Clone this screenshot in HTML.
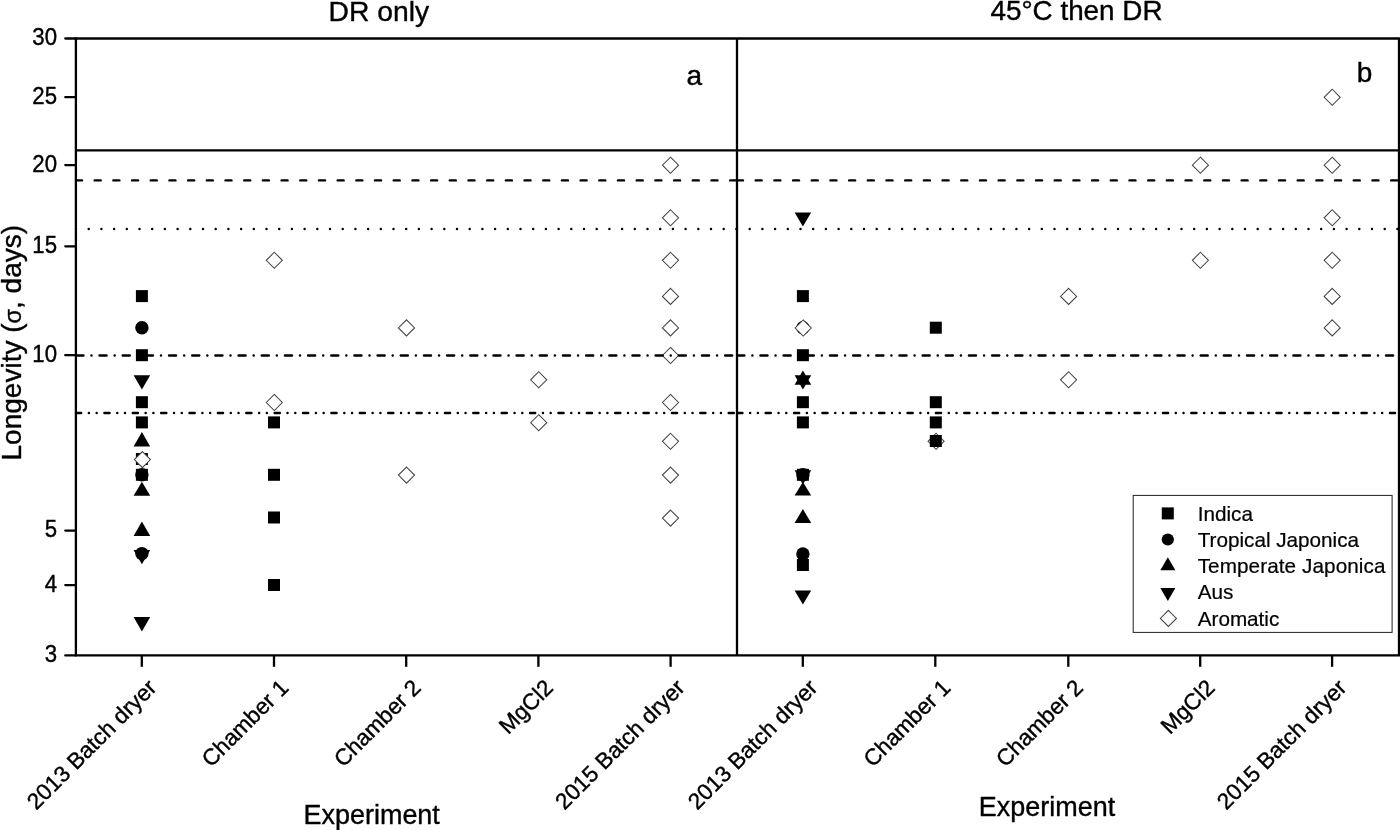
<!DOCTYPE html>
<html><head><meta charset="utf-8"><title>chart</title>
<style>html,body{margin:0;padding:0;background:#fff;overflow:hidden;}svg{display:block;filter:grayscale(1);}text{font-family:"Liberation Sans",sans-serif;fill:#000;stroke:#000;stroke-width:0.38px;stroke-linejoin:round;}</style></head><body>
<svg width="1400" height="830" viewBox="0 0 1400 830">
<rect x="0" y="0" width="1400" height="830" fill="#fff"/>
<g id="symbols">
<rect x="135.90" y="290.10" width="12.0" height="12.0" fill="#000"/>
<circle cx="141.90" cy="327.70" r="6.7" fill="#000"/>
<rect x="135.90" y="349.20" width="12.0" height="12.0" fill="#000"/>
<path d="M141.90 389.50L150.20 375.25L133.60 375.25Z" fill="#000"/>
<rect x="135.90" y="396.20" width="12.0" height="12.0" fill="#000"/>
<rect x="135.90" y="416.40" width="12.0" height="12.0" fill="#000"/>
<path d="M141.90 432.05L150.20 446.50L133.60 446.50Z" fill="#000"/>
<rect x="135.90" y="453.00" width="12.0" height="12.0" fill="#000"/>
<path d="M142.40 451.55L150.45 459.60L142.40 467.65L134.35 459.60Z" fill="#fff" stroke="#444" stroke-width="1.05" stroke-linejoin="miter"/>
<circle cx="141.90" cy="474.80" r="6.7" fill="#000"/>
<rect x="135.90" y="468.80" width="12.0" height="12.0" fill="#000"/>
<path d="M141.90 481.70L150.20 495.70L133.60 495.70Z" fill="#000"/>
<path d="M141.90 521.60L150.20 536.07L133.60 536.07Z" fill="#000"/>
<circle cx="141.90" cy="553.60" r="6.7" fill="#000"/>
<path d="M141.90 564.20L150.20 549.95L133.60 549.95Z" fill="#000"/>
<path d="M141.90 631.60L150.20 616.90L133.60 616.90Z" fill="#000"/>
<path d="M274.30 252.25L282.35 260.30L274.30 268.35L266.25 260.30Z" fill="none" stroke="#444" stroke-width="1.05" stroke-linejoin="miter"/>
<path d="M274.30 394.45L282.35 402.50L274.30 410.55L266.25 402.50Z" fill="none" stroke="#444" stroke-width="1.05" stroke-linejoin="miter"/>
<rect x="268.00" y="416.40" width="12.0" height="12.0" fill="#000"/>
<rect x="268.00" y="468.80" width="12.0" height="12.0" fill="#000"/>
<rect x="268.00" y="511.50" width="12.0" height="12.0" fill="#000"/>
<rect x="268.00" y="579.00" width="12.0" height="12.0" fill="#000"/>
<path d="M406.50 319.85L414.55 327.90L406.50 335.95L398.45 327.90Z" fill="none" stroke="#444" stroke-width="1.05" stroke-linejoin="miter"/>
<path d="M406.50 467.05L414.55 475.10L406.50 483.15L398.45 475.10Z" fill="none" stroke="#444" stroke-width="1.05" stroke-linejoin="miter"/>
<path d="M538.70 371.75L546.75 379.80L538.70 387.85L530.65 379.80Z" fill="none" stroke="#444" stroke-width="1.05" stroke-linejoin="miter"/>
<path d="M538.70 414.65L546.75 422.70L538.70 430.75L530.65 422.70Z" fill="none" stroke="#444" stroke-width="1.05" stroke-linejoin="miter"/>
<path d="M670.50 157.15L678.55 165.20L670.50 173.25L662.45 165.20Z" fill="none" stroke="#444" stroke-width="1.05" stroke-linejoin="miter"/>
<path d="M670.50 209.75L678.55 217.80L670.50 225.85L662.45 217.80Z" fill="none" stroke="#444" stroke-width="1.05" stroke-linejoin="miter"/>
<path d="M670.50 252.25L678.55 260.30L670.50 268.35L662.45 260.30Z" fill="none" stroke="#444" stroke-width="1.05" stroke-linejoin="miter"/>
<path d="M670.50 288.35L678.55 296.40L670.50 304.45L662.45 296.40Z" fill="none" stroke="#444" stroke-width="1.05" stroke-linejoin="miter"/>
<path d="M670.50 319.85L678.55 327.90L670.50 335.95L662.45 327.90Z" fill="none" stroke="#444" stroke-width="1.05" stroke-linejoin="miter"/>
<path d="M670.50 347.45L678.55 355.50L670.50 363.55L662.45 355.50Z" fill="none" stroke="#444" stroke-width="1.05" stroke-linejoin="miter"/>
<path d="M670.50 394.45L678.55 402.50L670.50 410.55L662.45 402.50Z" fill="none" stroke="#444" stroke-width="1.05" stroke-linejoin="miter"/>
<path d="M670.50 433.25L678.55 441.30L670.50 449.35L662.45 441.30Z" fill="none" stroke="#444" stroke-width="1.05" stroke-linejoin="miter"/>
<path d="M670.50 467.05L678.55 475.10L670.50 483.15L662.45 475.10Z" fill="none" stroke="#444" stroke-width="1.05" stroke-linejoin="miter"/>
<path d="M670.50 510.05L678.55 518.10L670.50 526.15L662.45 518.10Z" fill="none" stroke="#444" stroke-width="1.05" stroke-linejoin="miter"/>
<path d="M802.90 226.50L811.20 212.60L794.60 212.60Z" fill="#000"/>
<rect x="796.90" y="290.10" width="12.0" height="12.0" fill="#000"/>
<circle cx="802.90" cy="327.70" r="6.7" fill="#000"/>
<path d="M803.20 319.95L811.25 328.00L803.20 336.05L795.15 328.00Z" fill="#fff" stroke="#444" stroke-width="1.05" stroke-linejoin="miter"/>
<rect x="796.90" y="349.20" width="12.0" height="12.0" fill="#000"/>
<path d="M802.90 370.40L811.20 384.80L794.60 384.80Z" fill="#000"/>
<path d="M802.90 389.60L811.20 375.20L794.60 375.20Z" fill="#000"/>
<rect x="796.90" y="396.20" width="12.0" height="12.0" fill="#000"/>
<rect x="796.90" y="416.40" width="12.0" height="12.0" fill="#000"/>
<circle cx="802.90" cy="474.80" r="6.7" fill="#000"/>
<rect x="796.90" y="468.80" width="12.0" height="12.0" fill="#000"/>
<path d="M802.90 484.60L811.20 470.20L794.60 470.20Z" fill="#000"/>
<path d="M802.90 482.00L811.20 495.50L794.60 495.50Z" fill="#000"/>
<path d="M802.90 509.00L811.20 523.00L794.60 523.00Z" fill="#000"/>
<circle cx="802.90" cy="554.00" r="6.7" fill="#000"/>
<rect x="796.90" y="559.00" width="12.0" height="12.0" fill="#000"/>
<path d="M802.90 604.60L811.20 590.60L794.60 590.60Z" fill="#000"/>
<rect x="929.80" y="321.70" width="12.0" height="12.0" fill="#000"/>
<rect x="929.80" y="396.20" width="12.0" height="12.0" fill="#000"/>
<rect x="929.80" y="416.40" width="12.0" height="12.0" fill="#000"/>
<path d="M936.10 433.25L944.15 441.30L936.10 449.35L928.05 441.30Z" fill="none" stroke="#444" stroke-width="1.05" stroke-linejoin="miter"/>
<rect x="929.80" y="435.00" width="12.0" height="12.0" fill="#000"/>
<path d="M1068.60 288.35L1076.65 296.40L1068.60 304.45L1060.55 296.40Z" fill="none" stroke="#444" stroke-width="1.05" stroke-linejoin="miter"/>
<path d="M1068.60 371.75L1076.65 379.80L1068.60 387.85L1060.55 379.80Z" fill="none" stroke="#444" stroke-width="1.05" stroke-linejoin="miter"/>
<path d="M1200.40 157.15L1208.45 165.20L1200.40 173.25L1192.35 165.20Z" fill="none" stroke="#444" stroke-width="1.05" stroke-linejoin="miter"/>
<path d="M1200.40 252.25L1208.45 260.30L1200.40 268.35L1192.35 260.30Z" fill="none" stroke="#444" stroke-width="1.05" stroke-linejoin="miter"/>
<path d="M1332.20 89.25L1340.25 97.30L1332.20 105.35L1324.15 97.30Z" fill="none" stroke="#444" stroke-width="1.05" stroke-linejoin="miter"/>
<path d="M1332.20 157.15L1340.25 165.20L1332.20 173.25L1324.15 165.20Z" fill="none" stroke="#444" stroke-width="1.05" stroke-linejoin="miter"/>
<path d="M1332.20 209.75L1340.25 217.80L1332.20 225.85L1324.15 217.80Z" fill="none" stroke="#444" stroke-width="1.05" stroke-linejoin="miter"/>
<path d="M1332.20 252.25L1340.25 260.30L1332.20 268.35L1324.15 260.30Z" fill="none" stroke="#444" stroke-width="1.05" stroke-linejoin="miter"/>
<path d="M1332.20 288.35L1340.25 296.40L1332.20 304.45L1324.15 296.40Z" fill="none" stroke="#444" stroke-width="1.05" stroke-linejoin="miter"/>
<path d="M1332.20 319.85L1340.25 327.90L1332.20 335.95L1324.15 327.90Z" fill="none" stroke="#444" stroke-width="1.05" stroke-linejoin="miter"/>
</g>
<g id="reflines" fill="none" stroke="#000">
<line x1="76.0" y1="150.3" x2="737.0" y2="150.3" stroke-width="2.3"/>
<line x1="76.0" y1="180.4" x2="737.0" y2="180.4" stroke-width="2.4" stroke-linecap="round" stroke-dasharray="6.0 12.69"/>
<line x1="76.0" y1="228.9" x2="737.0" y2="228.9" stroke-width="2.45" stroke-linecap="round" stroke-dasharray="0.01 12.69"/>
<line x1="76.4" y1="355.4" x2="737.0" y2="355.4" stroke-width="2.5" stroke-linecap="round" stroke-dasharray="7.0 8.085 0.01 8.075"/>
<line x1="76.05" y1="413.0" x2="737.0" y2="413.0" stroke-width="2.5" stroke-linecap="round" stroke-dasharray="5.1 7.74 0.01 7.74 0.01 7.776"/>
<line x1="737.0" y1="150.3" x2="1400" y2="150.3" stroke-width="2.3"/>
<line x1="737.0" y1="180.4" x2="1400" y2="180.4" stroke-width="2.4" stroke-linecap="round" stroke-dasharray="6.0 12.69"/>
<line x1="737.0" y1="228.9" x2="1400" y2="228.9" stroke-width="2.45" stroke-linecap="round" stroke-dasharray="0.01 12.69"/>
<line x1="737.3" y1="355.4" x2="1400" y2="355.4" stroke-width="2.5" stroke-linecap="round" stroke-dasharray="7.0 8.085 0.01 8.075"/>
<line x1="737.3" y1="413.0" x2="1400" y2="413.0" stroke-width="2.5" stroke-linecap="round" stroke-dasharray="5.1 7.74 0.01 7.74 0.01 7.776"/>
</g>
<g id="frame" fill="none" stroke="#000" stroke-width="2.3">
<path d="M75.9 655.4L75.9 38.5L1399.0 38.5L1399.0 655.4L75.9 655.4Z" stroke-linejoin="miter"/>
<line x1="737.0" y1="38.5" x2="737.0" y2="655.4"/>
<line x1="65.3" y1="38.5" x2="75.9" y2="38.5" stroke-linecap="round"/>
<line x1="65.3" y1="97.2" x2="75.9" y2="97.2" stroke-linecap="round"/>
<line x1="65.3" y1="165.1" x2="75.9" y2="165.1" stroke-linecap="round"/>
<line x1="65.3" y1="246.3" x2="75.9" y2="246.3" stroke-linecap="round"/>
<line x1="65.3" y1="355.2" x2="75.9" y2="355.2" stroke-linecap="round"/>
<line x1="65.3" y1="530.6" x2="75.9" y2="530.6" stroke-linecap="round"/>
<line x1="65.3" y1="585.1" x2="75.9" y2="585.1" stroke-linecap="round"/>
<line x1="65.3" y1="655.4" x2="75.9" y2="655.4" stroke-linecap="round"/>
<line x1="141.8" y1="655.4" x2="141.8" y2="666.8"/>
<line x1="274.0" y1="655.4" x2="274.0" y2="666.8"/>
<line x1="406.2" y1="655.4" x2="406.2" y2="666.8"/>
<line x1="538.4" y1="655.4" x2="538.4" y2="666.8"/>
<line x1="670.6" y1="655.4" x2="670.6" y2="666.8"/>
<line x1="802.8" y1="655.4" x2="802.8" y2="666.8"/>
<line x1="935.3" y1="655.4" x2="935.3" y2="666.8"/>
<line x1="1068.3" y1="655.4" x2="1068.3" y2="666.8"/>
<line x1="1200.2" y1="655.4" x2="1200.2" y2="666.8"/>
<line x1="1332.1" y1="655.4" x2="1332.1" y2="666.8"/>
</g>
<g id="labels">
<text transform="translate(57.0 45.2) scale(1 1.04)" font-size="22.2" text-anchor="end">30</text>
<text transform="translate(57.0 103.9) scale(1 1.04)" font-size="22.2" text-anchor="end">25</text>
<text transform="translate(57.0 171.8) scale(1 1.04)" font-size="22.2" text-anchor="end">20</text>
<text transform="translate(57.0 253.0) scale(1 1.04)" font-size="22.2" text-anchor="end">15</text>
<text transform="translate(57.0 361.9) scale(1 1.04)" font-size="22.2" text-anchor="end">10</text>
<text transform="translate(57.0 537.3) scale(1 1.04)" font-size="22.2" text-anchor="end">5</text>
<text transform="translate(57.0 591.8) scale(1 1.04)" font-size="22.2" text-anchor="end">4</text>
<text transform="translate(57.0 662.1) scale(1 1.04)" font-size="22.2" text-anchor="end">3</text>
<text x="378.8" y="20.7" font-size="28.3" text-anchor="middle">DR only</text>
<text x="1076.5" y="20.1" font-size="27.85" text-anchor="middle">45°C then DR</text>
<text x="686.4" y="84.8" font-size="28">a</text>
<text x="1356.8" y="81.9" font-size="28">b</text>
<text transform="translate(371.7 824) scale(0.963 1)" font-size="28" text-anchor="middle">Experiment</text>
<text transform="translate(1047 816) scale(0.963 1)" font-size="28" text-anchor="middle">Experiment</text>
<text transform="translate(21.0 342.7) rotate(-90)" font-size="28" text-anchor="middle">Longevity (<tspan font-size="23.5">σ</tspan>, days)</text>
<text transform="translate(157.9 689) rotate(-45)" font-size="22.6" text-anchor="end">2013 Batch dryer</text>
<text transform="translate(290.0 689) rotate(-45)" font-size="22.6" text-anchor="end">Chamber 1</text>
<text transform="translate(422.2 689) rotate(-45)" font-size="22.6" text-anchor="end">Chamber 2</text>
<text transform="translate(554.4 689) rotate(-45)" font-size="22.6" text-anchor="end">MgCl2</text>
<text transform="translate(686.2 689) rotate(-45)" font-size="22.6" text-anchor="end">2015 Batch dryer</text>
<text transform="translate(818.9 689) rotate(-45)" font-size="22.6" text-anchor="end">2013 Batch dryer</text>
<text transform="translate(951.8 689) rotate(-45)" font-size="22.6" text-anchor="end">Chamber 1</text>
<text transform="translate(1084.3 689) rotate(-45)" font-size="22.6" text-anchor="end">Chamber 2</text>
<text transform="translate(1216.1 689) rotate(-45)" font-size="22.6" text-anchor="end">MgCl2</text>
<text transform="translate(1347.9 689) rotate(-45)" font-size="22.6" text-anchor="end">2015 Batch dryer</text>
</g>
<g id="legend">
<rect x="1133.2" y="495.4" width="258.9" height="137" fill="#fff" stroke="#222" stroke-width="1"/>
<rect x="1161.80" y="507.40" width="12.0" height="12.0" fill="#000"/>
<circle cx="1167.80" cy="539.50" r="6.1" fill="#000"/>
<path d="M1167.85 557.30L1175.35 570.30L1160.35 570.30Z" fill="#000"/>
<path d="M1167.85 601.10L1175.35 588.00L1160.35 588.00Z" fill="#000"/>
<path d="M1168.40 610.35L1176.45 618.40L1168.40 626.45L1160.35 618.40Z" fill="none" stroke="#444" stroke-width="1.05" stroke-linejoin="miter"/>
<text x="1197.7" y="521" font-size="20.7" style="stroke-width:0.22px">Indica</text>
<text x="1197.7" y="547.2" font-size="20.7" style="stroke-width:0.22px">Tropical Japonica</text>
<text x="1197.7" y="573.4" font-size="20.7" style="stroke-width:0.22px;letter-spacing:0.085px">Temperate Japonica</text>
<text x="1197.7" y="599.4" font-size="20.7" style="stroke-width:0.22px">Aus</text>
<text x="1197.7" y="625.7" font-size="20.7" style="stroke-width:0.22px">Aromatic</text>
</g>
</svg></body></html>
